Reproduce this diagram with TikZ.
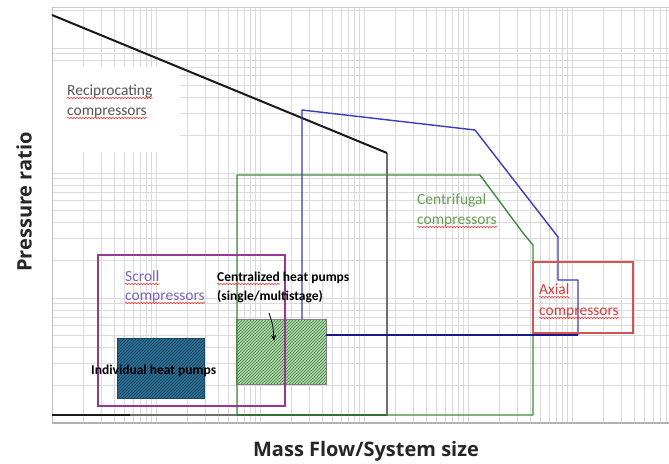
\documentclass[tikz,border=0pt]{standalone}
\usepackage{fontspec}
\setmainfont{Carlito}
\newfontfamily\axisfont{Open Sans}
\usetikzlibrary{patterns,decorations.pathmorphing,arrows.meta}
\definecolor{gridc}{RGB}{218,218,218}
\definecolor{recipc}{RGB}{25,25,25}
\definecolor{recipside}{RGB}{110,110,110}
\definecolor{bluec}{RGB}{60,60,185}
\definecolor{navyc}{RGB}{25,25,140}
\definecolor{greenc}{RGB}{60,140,60}
\definecolor{redc}{RGB}{210,85,85}
\definecolor{purplec}{RGB}{150,55,150}
\definecolor{ihpfill}{RGB}{45,110,145}
\definecolor{ihphatch}{RGB}{25,70,100}
\definecolor{chpfill}{RGB}{175,218,170}
\definecolor{chphatch}{RGB}{70,120,70}
\definecolor{txtgray}{RGB}{85,85,85}
\definecolor{txtgreen}{RGB}{100,160,80}
\definecolor{txtpurple}{RGB}{120,100,190}
\definecolor{txtred}{RGB}{215,60,60}
\tikzset{
  gridline/.style={draw=gridc, line width=0.6pt},
  lbl/.style={anchor=base west, inner sep=0pt, font=\fontsize{15.5}{18}\selectfont},
  blbl/.style={anchor=base west, inner sep=0pt, font=\fontsize{13.5}{16}\selectfont\bfseries},
  spell/.style={draw=red!80, line width=0.6pt, decorate, decoration={snake, amplitude=0.7pt, segment length=3pt}},
  axislbl/.style={font=\axisfont\fontsize{20}{22}\selectfont\bfseries, text=black!85},
}
\begin{document}
\begin{tikzpicture}[x=1pt,y=-1pt]
\useasboundingbox (0,0) rectangle (669,463);
% grid
\foreach \d in {0,...,5}{\foreach \k in {1,...,9}{%
  \pgfmathsetmacro\xx{52+104*(\d+log10(\k))}%
  \ifdim\xx pt<669pt \draw[gridline] (\xx,7) -- (\xx,423); \fi}}
\foreach \d in {0,...,3}{\foreach \k in {1,...,9}{%
  \pgfmathsetmacro\yy{423-125*(\d+log10(\k))}%
  \ifdim\yy pt>7pt \draw[gridline] (52,\yy) -- (669,\yy); \fi}}
\fill[white] (53,67) rectangle (180,152);
\draw[gray!40, line width=0.8pt] (52,7) -- (669,7);
\draw[gray!50, line width=0.8pt] (52,7) -- (52,423);
\draw[gray!60, line width=1.5pt] (52,423) -- (669,423);
% hatched boxes
\path[fill=ihpfill] (117,338) rectangle (204,398);
\path[pattern=north east lines, pattern color=ihphatch] (117,338) rectangle (204,398);
\draw[ihphatch, line width=0.8pt] (117,338) rectangle (204,398);
\path[fill=chpfill] (236,319) rectangle (326,384);
\path[pattern=north east lines, pattern color=chphatch] (236,319) rectangle (326,384);
\draw[gray, line width=0.8pt] (236,319) rectangle (326,384);
% reciprocating
\coordinate (r1) at (52,15);
\coordinate (r2) at (387,153);
\coordinate (r3) at (387,415);
\coordinate (r4) at (52,415);
\coordinate (r5) at (130,415);
\draw[recipside, line width=1.3pt] (r2) -- (r3) -- (r4);
\draw[recipc, line width=2pt] (r1) -- (r2);
\draw[recipc, line width=2.2pt] (r4) -- (r5);
% green (centrifugal)
\coordinate (g1) at (237,175);
\coordinate (g2) at (480,175);
\coordinate (g3) at (523,233);
\coordinate (g4) at (533,245);
\coordinate (g5) at (533,415);
\coordinate (g6) at (237,415);
\draw[greenc, line width=1.4pt, line join=round] (g6) -- (g1) -- (g2) -- (g3) -- (g4) -- (g5) -- (g6) -- cycle;
\draw[greenc!80!black, line width=2.4pt] (g6) -- (r3);
% blue
\coordinate (b1) at (302,319);
\coordinate (b2) at (302,110);
\coordinate (b3) at (475,130);
\coordinate (b4) at (558,237);
\coordinate (b5) at (558,280);
\coordinate (b6) at (578,280);
\coordinate (b7) at (578,335);
\coordinate (b8) at (326,335);
\draw[bluec, line width=1.4pt, line join=round] (b1) -- (b2) -- (b3) -- (b4) -- (b5) -- (b6) -- (b7);
\draw[navyc, line width=2.4pt] (b8) -- (b7);
% red (axial)
\draw[redc, line width=1.3pt] (533,262) rectangle (633,333);
% purple (scroll)
\draw[purplec, line width=1.8pt] (98,255) rectangle (285,406);
% arrow
\coordinate (a1) at (269,313);
\coordinate (a2) at (274,341);
\draw[black, line width=0.8pt, -{Stealth[length=6pt,width=5pt]}] (a1) .. controls (273,325) .. (a2);
% labels
\node[lbl, text=txtgray] (rec1) at (67,95) {Reciprocating};
\node[lbl, text=txtgray] (rec2) at (67,115) {compressors};
\node[lbl, text=txtgreen] (cen1) at (417,204) {Centrifugal};
\node[lbl, text=txtgreen] (cen2) at (417,224) {compressors};
\node[lbl, text=txtpurple] (scr1) at (125,281) {Scroll};
\node[lbl, text=txtpurple] (scr2) at (125,300) {compressors};
\node[lbl, text=txtred] (axi1) at (539,294) {Axial};
\node[lbl, text=txtred] (axi2) at (539,315) {compressors};
\node[blbl] (chp1) at (217,281) {Centralized heat pumps};
\node[blbl] (chp2) at (217,300) {(single/multistage)};
\node[blbl] (ihp) at (91,374) {Individual heat pumps};
\node[blbl, anchor=base west] (chpw) at (217,281) {\phantom{Centralized}};
\foreach \n in {rec1,rec2,cen2,scr1,scr2,axi1,axi2,chpw}{
  \draw[spell] ([yshift=-3pt]\n.base west) -- ([yshift=-3pt]\n.base east);}
\node[axislbl, rotate=90] (ylab) at (24,202) {Pressure ratio};
\node[axislbl] (xlab) at (366,451) {Mass Flow/System size};
\end{tikzpicture}
\end{document}
